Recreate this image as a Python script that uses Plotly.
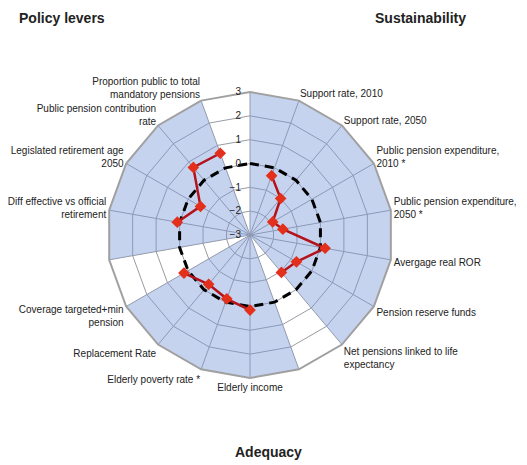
import plotly.graph_objects as go

# 18 spokes, clockwise from 12 o'clock; three unlabeled spokes split the groups
categories = [
    'gap_top', 'Support rate, 2010', 'Support rate, 2050',
    'Public pension expenditure, 2010 *', 'Public pension expenditure, 2050 *',
    'Avergage real ROR', 'Pension reserve funds',
    'Net pensions linked to life expectancy', 'gap_bottom',
    'Elderly income', 'Elderly poverty rate *', 'Replacement Rate',
    'Coverage targeted+min pension', 'gap_left',
    'Diff effective vs official retirement', 'Legislated retirement age 2050',
    'Public pension contribution rate',
    'Proportion public to total mandatory pensions',
]
tick_labels = [
    '', 'Support rate, 2010', 'Support rate, 2050',
    'Public pension expenditure,<br>2010 *', 'Public pension expenditure,<br>2050 *',
    'Avergage real ROR', 'Pension reserve funds',
    'Net pensions linked to life<br>expectancy', '',
    'Elderly income', 'Elderly poverty rate *', 'Replacement Rate',
    'Coverage targeted+min<br>pension', '',
    'Diff effective vs official<br>retirement', 'Legislated retirement age<br>2050',
    'Public pension contribution<br>rate',
    'Proportion public to total<br>mandatory pensions',
]
# country scores (standardised), None on the unlabeled spokes
scores = [None, -0.35, -1.0, -1.9, -1.6, 0.2, -0.75, -0.95, None,
          0.15, -0.15, -0.3, 0.2, None, 0.1, -0.6, 0.7, 0.65]
# OECD average reference
average = [0] * len(categories)
# 1 = sector starting at this spoke is shaded blue
shaded = [1, 1, 1, 1, 1, 1, 1, 0, 1, 1, 1, 1, 0, 1, 1, 1, 1, 0]
radial_ticks = [3, 2, 1, 0, -1, -2, -3]
r_min, r_max = -3, 3

fig = go.Figure()

# Blue background wedges, one polygon per run of shaded sectors
n = len(categories)
theta_fill, r_fill = [], []
i = 0
while i < n:
    if shaded[i]:
        j = i
        while j < n and shaded[j]:
            j += 1
        spokes = [categories[k % n] for k in range(i, j + 1)]
        theta_fill += [categories[i]] + spokes + [categories[i], None]
        r_fill += [r_min] + [r_max] * len(spokes) + [r_min, None]
        i = j
    else:
        i += 1

fig.add_trace(go.Scatterpolar(
    theta=theta_fill,
    r=r_fill,
    mode='lines',
    fill='toself',
    fillcolor='rgba(120,150,215,0.42)',
    line=dict(width=0),
    hoverinfo='skip',
    showlegend=False,
))

# Dashed average circle
fig.add_trace(go.Scatterpolar(
    theta=categories + [categories[0]],
    r=average + [average[0]],
    mode='lines',
    line=dict(color='black', width=3, dash='9px,6px'),
    showlegend=False,
))

# Country profile
# cliponaxis=True: with a negative radial start and a polygon grid plotly
# otherwise hides every marker as "outside range"
fig.add_trace(go.Scatterpolar(
    theta=categories,
    r=scores,
    mode='lines+markers',
    connectgaps=False,
    line=dict(color='#b3141c', width=2.5),
    marker=dict(symbol='diamond', size=9, color='#e3301c'),
    cliponaxis=True,
    showlegend=False,
))

# The page body adds an 8px margin, so the figure is 8px smaller than the window
fig.update_layout(
    width=519,
    height=457,
    margin=dict(l=0, r=0, t=0, b=0),
    paper_bgcolor='white',
    font=dict(family='Liberation Sans, Arial, sans-serif', color='#222222'),
    polar=dict(
        domain=dict(x=[0.1908, 0.7418], y=[0.1904, 0.8162]),
        gridshape='linear',
        bgcolor='white',
        angularaxis=dict(
            type='category',
            categoryarray=categories,
            rotation=90,
            direction='clockwise',
            tickmode='array',
            tickvals=categories,
            ticktext=tick_labels,
            ticks='',
            showline=True,
            linecolor='#a0a0a0',
            linewidth=2,
            gridcolor='#9a9ca4',
            gridwidth=1,
            tickfont=dict(size=10, color='#222222'),
        ),
        radialaxis=dict(
            range=[r_min, r_max],
            tickvals=radial_ticks,
            angle=90,
            side='counterclockwise',
            tickangle=90,
            ticks='outside',
            ticklen=5,
            tickcolor='rgba(0,0,0,0)',
            showline=False,
            gridcolor='#9a9ca4',
            gridwidth=1,
            tickfont=dict(size=10, color='#222222'),
        ),
    ),
    annotations=[
        dict(text='<b>Policy levers</b>', x=0.0173, y=0.979, xref='paper', yref='paper',
             xanchor='left', yanchor='middle', showarrow=False, font=dict(size=14)),
        dict(text='<b>Sustainability</b>', x=0.703, y=1, xref='paper', yref='paper',
             xanchor='left', yanchor='top', showarrow=False, font=dict(size=14)),
        dict(text='<b>Adequacy</b>', x=0.501, y=0.0284, xref='paper', yref='paper',
             xanchor='center', yanchor='middle', showarrow=False, font=dict(size=14)),
    ],
)

fig.write_html('out.html')
